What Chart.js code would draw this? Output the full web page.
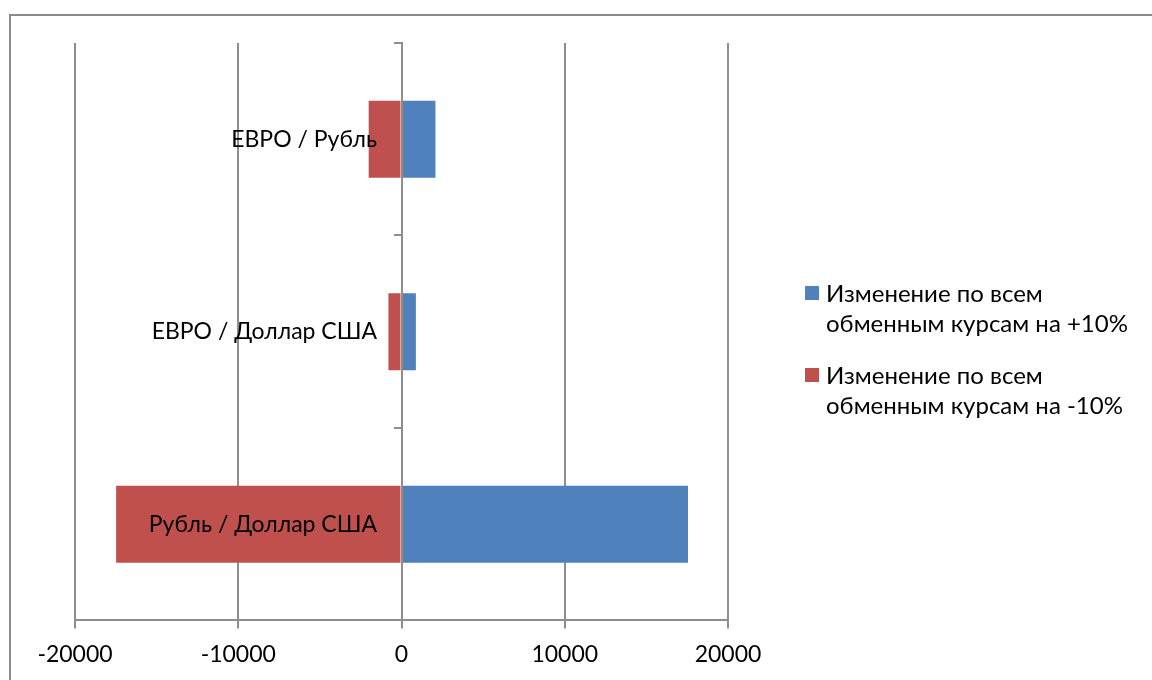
<!DOCTYPE html>
<html>
<head>
<meta charset="utf-8">
<script src="https://cdn.jsdelivr.net/npm/chart.js@4.4.1/dist/chart.umd.min.js"></script>
<style>
  html, body { margin: 0; padding: 0; background: #fff; }
  #wrap { position: relative; width: 1152px; height: 680px; overflow: hidden; background: #fff;
          font-family: Lato, "Open Sans", sans-serif; }
  #frame { position: absolute; left: 9px; top: 14px; width: 1200px; height: 720px;
           border-left: 2px solid #8a8a8a; border-top: 2px solid #8a8a8a; box-sizing: border-box; }
  #chart { position: absolute; left: 0; top: 0; }
  .item { position: absolute; left: 805px; width: 340px; }
  .swatch { position: absolute; left: 0; top: 8px; width: 14px; height: 14px; }
  .text { position: absolute; left: 21px; width: 320px; font-size: 24px; line-height: 30px; color: #000; }
</style>
</head>
<body>
<div id="wrap">
  <div id="frame"></div>
  <canvas id="chart" width="1152" height="680"></canvas>
  <div id="legend"></div>
</div>
<script>
// Currency pairs, top to bottom
const categories = ['ЕВРО / Рубль', 'ЕВРО / Доллар США', 'Рубль / Доллар США'];
// Effect of a +10% move in all exchange rates
const plusValues = [2080, 880, 17550];
// Effect of a -10% move in all exchange rates
const minusValues = [-2010, -800, -17480];
const seriesNames = [
  'Изменение по всем обменным курсам на +10%',
  'Изменение по всем обменным курсам на -10%'
];
const seriesColors = ['#4F81BD', '#C0504D'];
const xTicks = [-20000, -10000, 0, 10000, 20000];

const FONT = 'Lato, "Open Sans", sans-serif';
const GRID = '#8e8e8e';
// Category names sit just left of the zero line (value on the x scale)
const LABEL_ANCHOR = -1500;

Chart.defaults.font.family = FONT;
Chart.defaults.color = '#000';

const chart = new Chart(document.getElementById('chart'), {
  type: 'bar',
  data: {
    labels: categories,
    datasets: [
      { label: seriesNames[0], data: plusValues, backgroundColor: seriesColors[0],
        barPercentage: 0.4, categoryPercentage: 1 },
      { label: seriesNames[1], data: minusValues, backgroundColor: seriesColors[1],
        barPercentage: 0.4, categoryPercentage: 1 }
    ]
  },
  options: {
    indexAxis: 'y',
    responsive: false,
    animation: false,
    layout: { padding: { left: 75, top: 43, right: 424, bottom: 0 } },
    plugins: { legend: { display: false }, tooltip: { enabled: false } },
    scales: {
      x: {
        stacked: true,
        min: xTicks[0],
        max: xTicks[xTicks.length - 1],
        afterBuildTicks: s => { s.ticks = xTicks.map(v => ({ value: v })); },
        grid: { color: GRID, lineWidth: 2, tickLength: 8 },
        border: { color: GRID, width: 2 },
        ticks: { color: '#000', font: { size: 23 }, padding: 12, maxRotation: 0, autoSkip: false,
                 callback: v => String(v) }
      },
      // Category axis crossing at zero: axis line and tick marks
      y: {
        stacked: true,
        position: { x: 0 },
        grid: { drawOnChartArea: false, color: GRID, lineWidth: 2, tickLength: 7, offset: true },
        border: { color: GRID, width: 2, z: 1 },
        ticks: { display: false }
      },
      // Category names, drawn above the bars
      yNames: {
        type: 'category',
        axis: 'y',
        position: { x: LABEL_ANCHOR },
        offset: true,
        grid: { display: false, drawTicks: false },
        border: { display: false },
        ticks: { color: '#000', font: { size: 23 }, padding: 0, autoSkip: false, z: 1 }
      }
    }
  }
});

// Legend built from the dataset labels and colours
const legend = document.getElementById('legend');
const itemTops = [278, 360];
chart.data.datasets.forEach((ds, i) => {
  const item = document.createElement('div');
  item.className = 'item';
  item.style.top = itemTops[i] + 'px';
  const sw = document.createElement('div');
  sw.className = 'swatch';
  sw.style.background = ds.backgroundColor;
  const tx = document.createElement('div');
  tx.className = 'text';
  tx.textContent = ds.label;
  item.appendChild(sw);
  item.appendChild(tx);
  legend.appendChild(item);
});
</script>
</body>
</html>
